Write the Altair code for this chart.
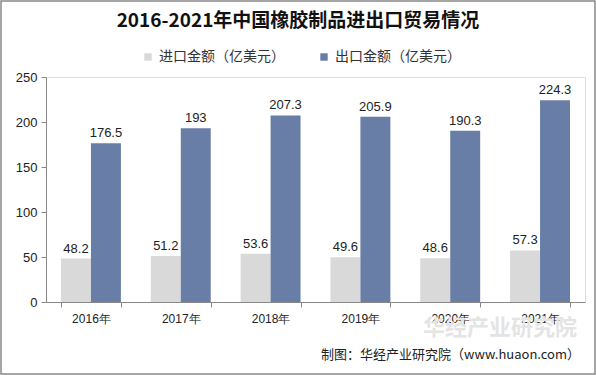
import altair as alt
import pandas as pd

years = ["2016年", "2017年", "2018年", "2019年", "2020年", "2021年"]
imports = [48.2, 51.2, 53.6, 49.6, 48.6, 57.3]
exports = [176.5, 193, 207.3, 205.9, 190.3, 224.3]
series = ["进口金额（亿美元）", "出口金额（亿美元）"]
colors = ["#d9d9d9", "#687ea6"]

rows = []
for y, a, b in zip(years, imports, exports):
    rows.append({"year": y, "series": series[0], "value": a, "label": f"{a:g}"})
    rows.append({"year": y, "series": series[1], "value": b, "label": f"{b:g}"})
df = pd.DataFrame(rows)

FONT = "Noto Sans CJK SC"
W, H = 539, 225

x = alt.X("year:N", sort=years, title=None,
          scale=alt.Scale(paddingInner=0.333, paddingOuter=0.167),
          axis=alt.Axis(labelAngle=0, tickBand="extent", labelFontSize=12,
                        labelColor="#222", labelFont="Liberation Sans",
                        domainColor="#888", tickColor="#888", labelPadding=6))
xo = alt.XOffset("series:N", sort=series)
y = alt.Y("value:Q", title=None,
          scale=alt.Scale(domain=[0, 250]),
          axis=alt.Axis(values=[0, 50, 100, 150, 200, 250], grid=False,
                        labelFontSize=13, labelColor="#222", labelFont="Liberation Sans",
                        domainColor="#888", tickColor="#888", tickSize=5, labelPadding=4))

bars = alt.Chart(df).mark_bar().encode(
    x=x, xOffset=xo, y=y,
    color=alt.Color("series:N", sort=series,
                    scale=alt.Scale(domain=series, range=colors),
                    legend=alt.Legend(title=None, orient="none", direction="horizontal",
                                      legendX=95, legendY=-27, symbolType="square",
                                      symbolSize=55, labelFontSize=14, labelFont=FONT,
                                      labelColor="#333", columnPadding=32, symbolStrokeWidth=0))
)

labels = alt.Chart(df).mark_text(dy=-10, fontSize=13, font="Liberation Sans", color="#222").encode(
    x=x, xOffset=xo, y=y, text="label:N"
)

border = alt.Chart(pd.DataFrame({"a": [0]})).mark_rect(
    filled=False, stroke="#888", strokeWidth=1.5
).encode(x=alt.value(-45), x2=alt.value(549), y=alt.value(-76), y2=alt.value(297))

title = alt.Chart(pd.DataFrame({"t": ["2016-2021年中国橡胶制品进出口贸易情况"]})).mark_text(
    fontSize=19, font=FONT, fontWeight="bold", color="#111", align="center", baseline="middle"
).encode(x=alt.value(252), y=alt.value(-56), text="t:N")

watermark = alt.Chart(pd.DataFrame({"t": ["华经产业研究院"]})).mark_text(
    fontSize=22, font=FONT, fontWeight="bold", color="#e4e4e4", align="right", baseline="middle"
).encode(x=alt.value(531), y=alt.value(251), text="t:N")

source = alt.Chart(pd.DataFrame({"t": ["制图：华经产业研究院（www.huaon.com）"]})).mark_text(
    fontSize=13, font=FONT, color="#222", align="right", baseline="middle"
).encode(x=alt.value(534), y=alt.value(278), text="t:N")

chart = alt.layer(border, watermark, bars, labels, source, title).properties(
    width=W, height=H,
    padding={"left": 46, "top": 77, "right": 11, "bottom": 73},
    autosize=alt.AutoSizeParams(type="none"),
).configure_view(stroke=None).configure(background="white")

chart.save("out.html", embed_options={"renderer": "svg", "actions": False})
